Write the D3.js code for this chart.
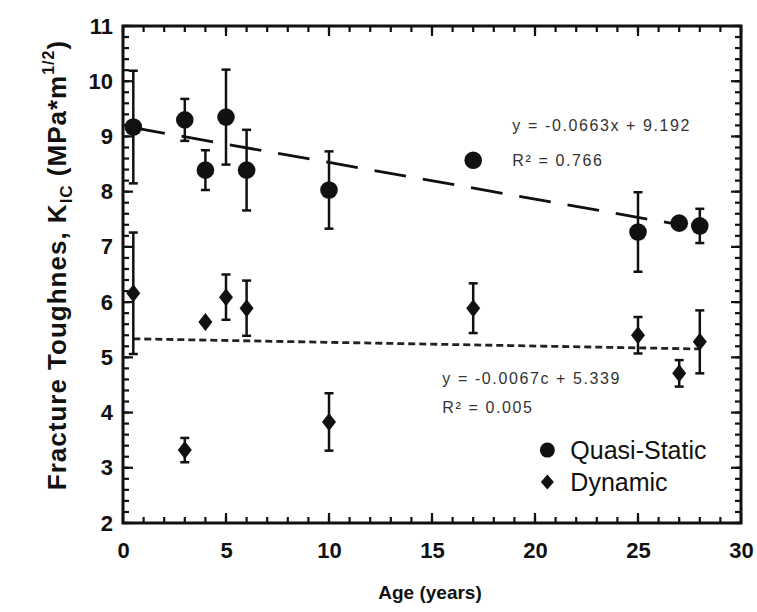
<!DOCTYPE html>
<html>
<head>
<meta charset="utf-8">
<script src="https://cdn.jsdelivr.net/npm/d3@7"></script>
<style>
  body { margin: 0; background: #fff; }
  svg { font-family: "Liberation Sans", Arial, sans-serif; }
</style>
</head>
<body>
<svg id="chart" width="757" height="612"></svg>
<script>
// age in years, toughness in MPa*m^1/2, err = half length of the error bar
var qsAge = [0.5, 3, 4, 5, 6, 10, 17, 25, 27, 28];
var qsK   = [9.17, 9.30, 8.39, 9.35, 8.39, 8.03, 8.57, 7.27, 7.43, 7.38];
var qsErr = [1.02, 0.38, 0.36, 0.86, 0.73, 0.70, 0.10, 0.72, 0.05, 0.31];

var dyAge = [0.5, 3, 4, 5, 6, 10, 17, 25, 27, 28];
var dyK   = [6.16, 3.32, 5.64, 6.09, 5.89, 3.83, 5.89, 5.40, 4.71, 5.28];
var dyErr = [1.10, 0.22, 0.04, 0.41, 0.50, 0.52, 0.45, 0.33, 0.24, 0.57];

// linear fits printed on the chart
var qsFit = { slope: -0.0663, icept: 9.192, from: 0.5, to: 27 };
var dyFit = { slope: -0.0067, icept: 5.339, from: 0.5, to: 28 };

var xTicks = [0, 5, 10, 15, 20, 25, 30];
var yTicks = [2, 3, 4, 5, 6, 7, 8, 9, 10, 11];

var svg = d3.select("#chart");
var margin = {top: 26, right: 16, bottom: 89, left: 123},
    width = 741 - margin.left,
    height = 523 - margin.top;
var g = svg.append("g").attr("transform", "translate(" + margin.left + "," + margin.top + ")");

var x = d3.scaleLinear().domain([0, 30]).range([0, width]);
var y = d3.scaleLinear().domain([2, 11]).range([height, 0]);

// inward ticks on all four sides: minor every 1 yr / 0.2, major on labels
var xMinor = d3.range(0, 31, 1), yMinor = d3.range(0, 46).map(function(i) { return 2 + i * 0.2; });
var tk = g.append("g").attr("class", "ticks");
function xTickMarks(vals, len) {
  [[height, -len], [0, len]].forEach(function(s) {
    tk.selectAll(null).data(vals).enter().append("line")
      .attr("x1", function(d) { return x(d); }).attr("x2", function(d) { return x(d); })
      .attr("y1", s[0]).attr("y2", s[0] + s[1])
      .attr("stroke", "#111").attr("stroke-width", 2.2);
  });
}
function yTickMarks(vals, len) {
  [[0, len], [width, -len]].forEach(function(s) {
    tk.selectAll(null).data(vals).enter().append("line")
      .attr("y1", function(d) { return y(d); }).attr("y2", function(d) { return y(d); })
      .attr("x1", s[0]).attr("x2", s[0] + s[1])
      .attr("stroke", "#111").attr("stroke-width", 2.2);
  });
}
xTickMarks(xMinor, 6);
xTickMarks(xTicks, 10);
yTickMarks(yMinor, 6);
yTickMarks(yTicks, 10);

g.append("rect")
  .attr("width", width).attr("height", height)
  .attr("fill", "none").attr("stroke", "#111").attr("stroke-width", 3);

// tick labels
g.append("g").attr("transform", "translate(0," + height + ")")
  .call(d3.axisBottom(x).tickValues(xTicks).tickSize(0).tickPadding(19))
  .call(function(a) { a.select(".domain").remove(); })
  .selectAll("text")
  .attr("font-size", 22).attr("font-weight", "bold").attr("fill", "#111")
  .attr("font-family", "Liberation Sans, Arial, sans-serif");
g.append("g")
  .call(d3.axisLeft(y).tickValues(yTicks).tickSize(0).tickPadding(10))
  .call(function(a) { a.select(".domain").remove(); })
  .selectAll("text")
  .attr("font-size", 22).attr("font-weight", "bold").attr("fill", "#111")
  .attr("font-family", "Liberation Sans, Arial, sans-serif");

// axis titles
svg.append("text")
  .attr("x", margin.left + x(15) - 2).attr("y", 599)
  .attr("text-anchor", "middle")
  .attr("font-size", 19).attr("font-weight", "bold").attr("fill", "#111")
  .text("Age (years)");

var yt = svg.append("text")
  .attr("transform", "translate(66,265) rotate(-90)")
  .attr("text-anchor", "middle")
  .attr("font-size", 26).attr("font-weight", "bold").attr("fill", "#111")
  .attr("letter-spacing", 1);
yt.append("tspan").text("Fracture Toughnes, K");
yt.append("tspan").attr("font-size", 17).attr("dy", 6).text("IC");
yt.append("tspan").attr("dy", -6).text(" (MPa*m");
yt.append("tspan").attr("font-size", 16).attr("dy", -12).text("1/2");
yt.append("tspan").attr("dy", 12).text(")");

// trend lines
function fitLine(f) {
  return [f.from, f.to].map(function(a) { return [a, f.icept + f.slope * a]; });
}
var line = d3.line().x(function(d) { return x(d[0]); }).y(function(d) { return y(d[1]); });
g.append("path").datum(fitLine(qsFit))
  .attr("d", line).attr("fill", "none").attr("stroke", "#111")
  .attr("stroke-width", 2.8).attr("stroke-dasharray", "32,17");
g.append("path").datum(fitLine(dyFit))
  .attr("d", line).attr("fill", "none").attr("stroke", "#222")
  .attr("stroke-width", 2.8).attr("stroke-dasharray", "7,4");

// error bars
function errorBars(ages, ks, errs) {
  var data = ages.map(function(a, i) { return {a: a, k: ks[i], e: errs[i]}; })
    .filter(function(d) { return d.e > 0.06; });
  var eb = g.append("g").attr("stroke", "#111").attr("stroke-width", 2.5);
  eb.selectAll(null).data(data).enter().append("line")
    .attr("x1", function(d) { return x(d.a); }).attr("x2", function(d) { return x(d.a); })
    .attr("y1", function(d) { return y(d.k + d.e); }).attr("y2", function(d) { return y(d.k - d.e); });
  [1, -1].forEach(function(s) {
    eb.selectAll(null).data(data).enter().append("line")
      .attr("x1", function(d) { return x(d.a) - 4.5; }).attr("x2", function(d) { return x(d.a) + 4.5; })
      .attr("y1", function(d) { return y(d.k + s * d.e); }).attr("y2", function(d) { return y(d.k + s * d.e); });
  });
}
errorBars(qsAge, qsK, qsErr);
errorBars(dyAge, dyK, dyErr);

var diamond = "M0,-9L7,0L0,9L-7,0Z";

g.selectAll(null).data(qsAge).enter().append("circle")
  .attr("cx", function(d) { return x(d); })
  .attr("cy", function(d, i) { return y(qsK[i]); })
  .attr("r", 8.8).attr("fill", "#111");

g.selectAll(null).data(dyAge).enter().append("path")
  .attr("d", diamond)
  .attr("transform", function(d, i) { return "translate(" + x(d) + "," + y(dyK[i]) + ")"; })
  .attr("fill", "#111");

// fit equations
var eqs = [
  {lines: ["y = -0.0663x + 9.192", "R² = 0.766"], ax: 18.9, ky: 9.10, gap: 35},
  {lines: ["y = -0.0067c + 5.339", "R² = 0.005"], ax: 15.5, ky: 4.51, gap: 29}
];
eqs.forEach(function(e) {
  e.lines.forEach(function(t, i) {
    g.append("text")
      .attr("x", x(e.ax)).attr("y", y(e.ky) + i * e.gap)
      .attr("font-size", 16).attr("fill", "#333").attr("letter-spacing", 1.6)
      .text(t);
  });
});

// legend
var legend = [{name: "Quasi-Static", sym: "circle"}, {name: "Dynamic", sym: "diamond"}];
var lg = g.append("g").attr("transform", "translate(" + x(20.6) + "," + y(3.32) + ")");
legend.forEach(function(l, i) {
  var row = lg.append("g").attr("transform", "translate(0," + (i * 32) + ")");
  if (l.sym === "circle") row.append("circle").attr("r", 7.5).attr("fill", "#111");
  else row.append("path").attr("d", "M0,-7.5L6.5,0L0,7.5L-6.5,0Z").attr("fill", "#111");
  row.append("text").attr("x", 23).attr("dy", "0.36em")
    .attr("font-size", 25).attr("fill", "#111").text(l.name);
});
</script>
</body>
</html>
